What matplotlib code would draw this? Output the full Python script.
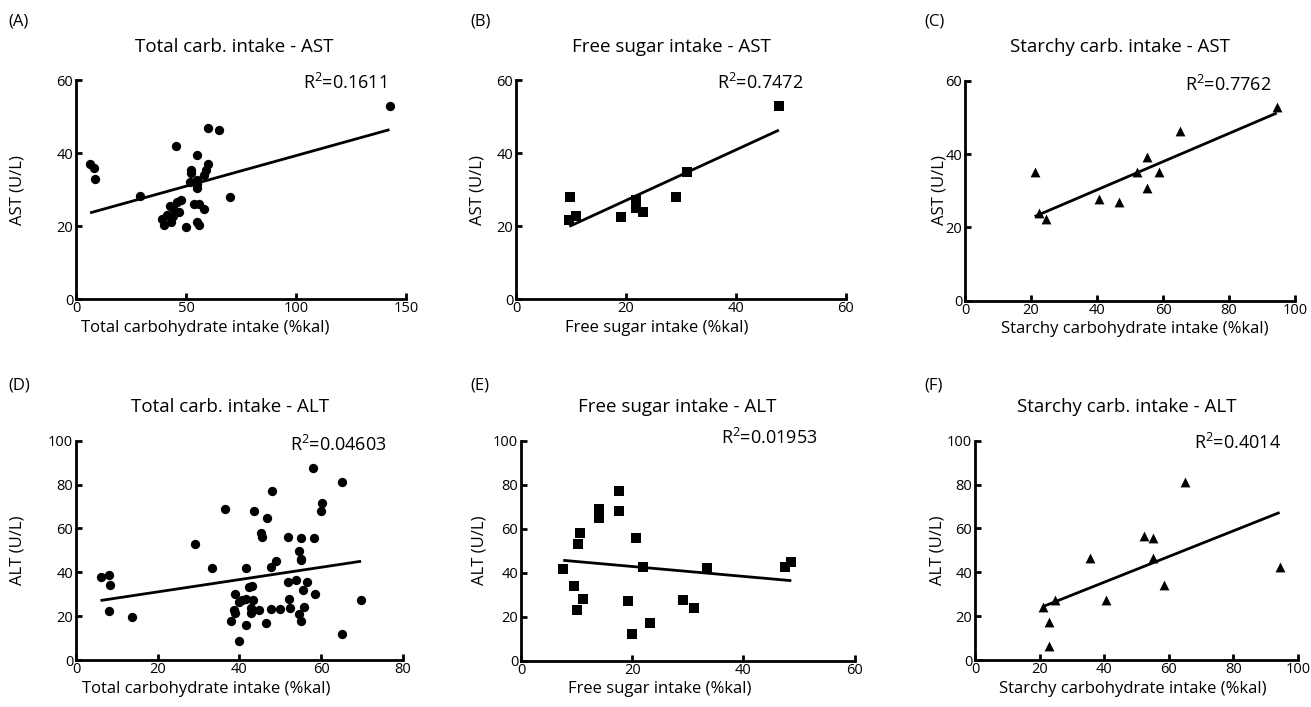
import matplotlib
matplotlib.use("Agg")
import matplotlib.pyplot as plt
import numpy as np

plt.rcParams['font.family'] = ['Open Sans', 'DejaVu Sans']
plt.rcParams['mathtext.fontset'] = 'custom'
plt.rcParams['mathtext.rm'] = 'Open Sans'
plt.rcParams['mathtext.it'] = 'Open Sans'
plt.rcParams['mathtext.default'] = 'regular'

# ---------------- data ----------------
# (A) Total carb intake vs AST
a_x = [6.4, 8.4, 8.7, 29.2, 45.4, 55.0, 60.0, 65.2, 69.8, 142.5, 52.3, 52.4, 51.7, 55.0,
       55.2, 55.0, 60.0, 58.9, 58.2, 53.5, 55.7, 58.3, 47.7, 46.1, 46.6, 42.8, 44.3, 39.0,
       41.3, 43.9, 43.1, 39.8, 50.0, 55.0, 56.0]
a_y = [37.0, 35.9, 33.0, 28.1, 42.0, 39.5, 46.9, 46.2, 28.0, 53.0, 35.4, 34.5, 32.0, 32.7,
       31.6, 30.4, 36.9, 35.4, 34.1, 26.1, 26.1, 24.7, 27.2, 26.5, 23.7, 25.6, 24.9, 21.9,
       22.9, 22.8, 21.1, 20.2, 19.7, 21.1, 20.4]
# (B) Free sugar intake vs AST
b_x = [9.9, 9.7, 10.9, 19.1, 21.9, 21.8, 23.1, 29.1, 31.1, 47.8]
b_y = [27.9, 21.7, 22.8, 22.5, 27.2, 24.9, 23.8, 27.9, 34.8, 52.9]
# (C) Starchy carb intake vs AST
c_x = [21.1, 22.4, 24.4, 40.5, 46.7, 52.1, 55.1, 55.1, 58.7, 65.1, 94.5]
c_y = [35.0, 23.9, 22.3, 27.8, 26.8, 35.1, 39.2, 30.8, 35.2, 46.3, 52.8]
# (D) Total carb intake vs ALT
d_x = [6.0, 8.2, 8.4, 8.2, 13.6, 29.1, 33.4, 36.5, 37.9, 38.9, 38.8, 38.9, 39.9, 39.8,
       40.6, 41.6, 41.7, 41.6, 43.0, 42.4, 42.9, 42.9, 43.4, 43.7, 44.9, 45.3, 45.6, 46.7,
       46.5, 47.8, 48.0, 47.8, 48.9, 49.9, 52.0, 52.0, 52.1, 52.3, 53.8, 54.6, 54.7, 55.0,
       55.2, 55.1, 55.0, 55.6, 55.9, 56.6, 58.0, 58.3, 58.5, 60.2, 60.1, 65.1, 65.1, 69.8]
d_y = [38.0, 38.8, 34.2, 22.3, 19.8, 52.9, 41.8, 68.8, 17.9, 29.9, 22.8, 21.6, 8.8, 26.6,
       27.4, 27.8, 41.8, 15.8, 33.7, 33.4, 23.6, 21.3, 27.2, 67.9, 22.8, 58.1, 55.9, 64.9,
       17.0, 23.3, 76.9, 42.6, 45.0, 23.3, 56.2, 35.4, 27.8, 23.9, 36.3, 21.0, 49.8, 45.6,
       46.2, 55.8, 17.9, 32.1, 24.3, 35.7, 87.5, 55.6, 29.9, 71.7, 67.8, 81.2, 11.9, 27.4]
# (E) Free sugar intake vs ALT
e_x = [7.6, 9.5, 10.1, 10.3, 10.6, 11.1, 14.1, 14.1, 17.7, 17.7, 19.2, 20.0, 20.7, 22.0,
       23.2, 29.1, 31.1, 33.4, 47.5, 48.6]
e_y = [41.7, 33.8, 23.0, 52.9, 57.9, 28.0, 68.8, 65.0, 77.0, 68.0, 27.3, 12.0, 55.9, 42.6,
       17.0, 27.4, 23.9, 42.0, 42.4, 45.0]
# (F) Starchy carb intake vs ALT
f_x = [21.2, 22.9, 22.9, 24.7, 35.7, 40.5, 52.2, 55.2, 55.2, 58.6, 65.1, 94.3]
f_y = [24.1, 17.1, 6.5, 27.5, 46.6, 27.5, 56.4, 55.8, 46.3, 34.3, 81.3, 42.6]

# regression lines (slope, intercept)
fit_slope = [0.1675, 0.6925, 0.3856, 0.2805, -0.2252, 0.5855]
fit_icept = [22.53, 13.17, 14.82, 25.45, 47.33, 12.05]
r2_labels = ["0.1611", "0.7472", "0.7762", "0.04603", "0.01953", "0.4014"]

panel_letters = ["(A)", "(B)", "(C)", "(D)", "(E)", "(F)"]
titles = ["Total carb. intake - AST", "Free sugar intake - AST", "Starchy carb. intake - AST",
          "Total carb. intake - ALT", "Free sugar intake - ALT", "Starchy carb. intake - ALT"]
xlabels = ["Total carbohydrate intake (%kal)", "Free sugar intake (%kal)",
           "Starchy carbohydrate intake (%kal)"] * 2
ylabels = ["AST (U/L)"] * 3 + ["ALT (U/L)"] * 3
xlims = [150, 60, 100, 80, 60, 100]
xticks = [[0, 50, 100, 150], [0, 20, 40, 60], [0, 20, 40, 60, 80, 100],
          [0, 20, 40, 60, 80], [0, 20, 40, 60], [0, 20, 40, 60, 80, 100]]
ylims = [60, 60, 60, 100, 100, 100]
yticks = [[0, 20, 40, 60]] * 3 + [[0, 20, 40, 60, 80, 100]] * 3

xs = [a_x, b_x, c_x, d_x, e_x, f_x]
ys = [a_y, b_y, c_y, d_y, e_y, f_y]
markers = ['o', 's', '^', 'o', 's', '^']

# ---------------- layout (pixels) ----------------
W, H = 1311, 707
fig = plt.figure(figsize=(W / 100, H / 100), dpi=100)

# left, right, top, bottom in pixels for each axes
boxes = [(76, 406, 80, 299), (516, 846, 80, 299), (965, 1295, 81, 300.5),
         (76, 402.7, 440.7, 660), (521, 854.7, 440.7, 660.7), (975, 1298, 440.7, 660)]
r2_pos = [(386.7, 83), (803, 83), (1271.7, 85), (386.7, 445), (818, 438), (1280.7, 442.7)]
title_pos = [(234, 47), (671, 47), (1120, 47), (230, 407), (677, 407), (1127, 407)]
letter_pos = [(8, 22), (470, 22), (924, 22), (8, 385), (470, 385), (924, 385)]
xlabel_pos = [(205, 328), (657, 328), (1135, 329), (206, 689), (660, 689), (1133, 689)]
ylabel_pos = [(18, 190), (478, 190), (940, 190), (18, 550), (480, 550), (937, 550)]

for i in range(6):
    l, r, t, b = boxes[i]
    ax = fig.add_axes([l / W, 1 - b / H, (r - l) / W, (b - t) / H])
    ax.scatter(xs[i], ys[i], marker=markers[i], s=45 if markers[i] != '^' else 50,
               color='black', linewidths=0, zorder=3, clip_on=False)
    xx = np.array([min(xs[i]), max(xs[i])])
    ax.plot(xx, fit_slope[i] * xx + fit_icept[i], color='black', lw=2.0,
            solid_capstyle='butt', zorder=2)
    ax.set_xlim(0, xlims[i])
    ax.set_ylim(0, ylims[i])
    ax.set_xticks(xticks[i])
    ax.set_yticks(yticks[i])
    for s in ['top', 'right']:
        ax.spines[s].set_visible(False)
    for s in ['left', 'bottom']:
        ax.spines[s].set_linewidth(2.0)
    ax.tick_params(direction='in', length=4, width=2.0, labelsize=10.5, pad=2)
    ax.tick_params(axis='x', pad=1.5)
    fig.text(r2_pos[i][0] / W, 1 - r2_pos[i][1] / H, "R$^{2}$=" + r2_labels[i],
             ha='right', va='center', fontsize=13)
    fig.text(title_pos[i][0] / W, 1 - title_pos[i][1] / H, titles[i],
             ha='center', va='center', fontsize=13.5)
    fig.text(letter_pos[i][0] / W, 1 - letter_pos[i][1] / H, panel_letters[i],
             ha='left', va='center', fontsize=12)
    fig.text(xlabel_pos[i][0] / W, 1 - xlabel_pos[i][1] / H, xlabels[i],
             ha='center', va='center', fontsize=12)
    fig.text(ylabel_pos[i][0] / W, 1 - ylabel_pos[i][1] / H, ylabels[i],
             ha='center', va='center', fontsize=12, rotation=90)

fig.savefig("out.png", dpi=100)
